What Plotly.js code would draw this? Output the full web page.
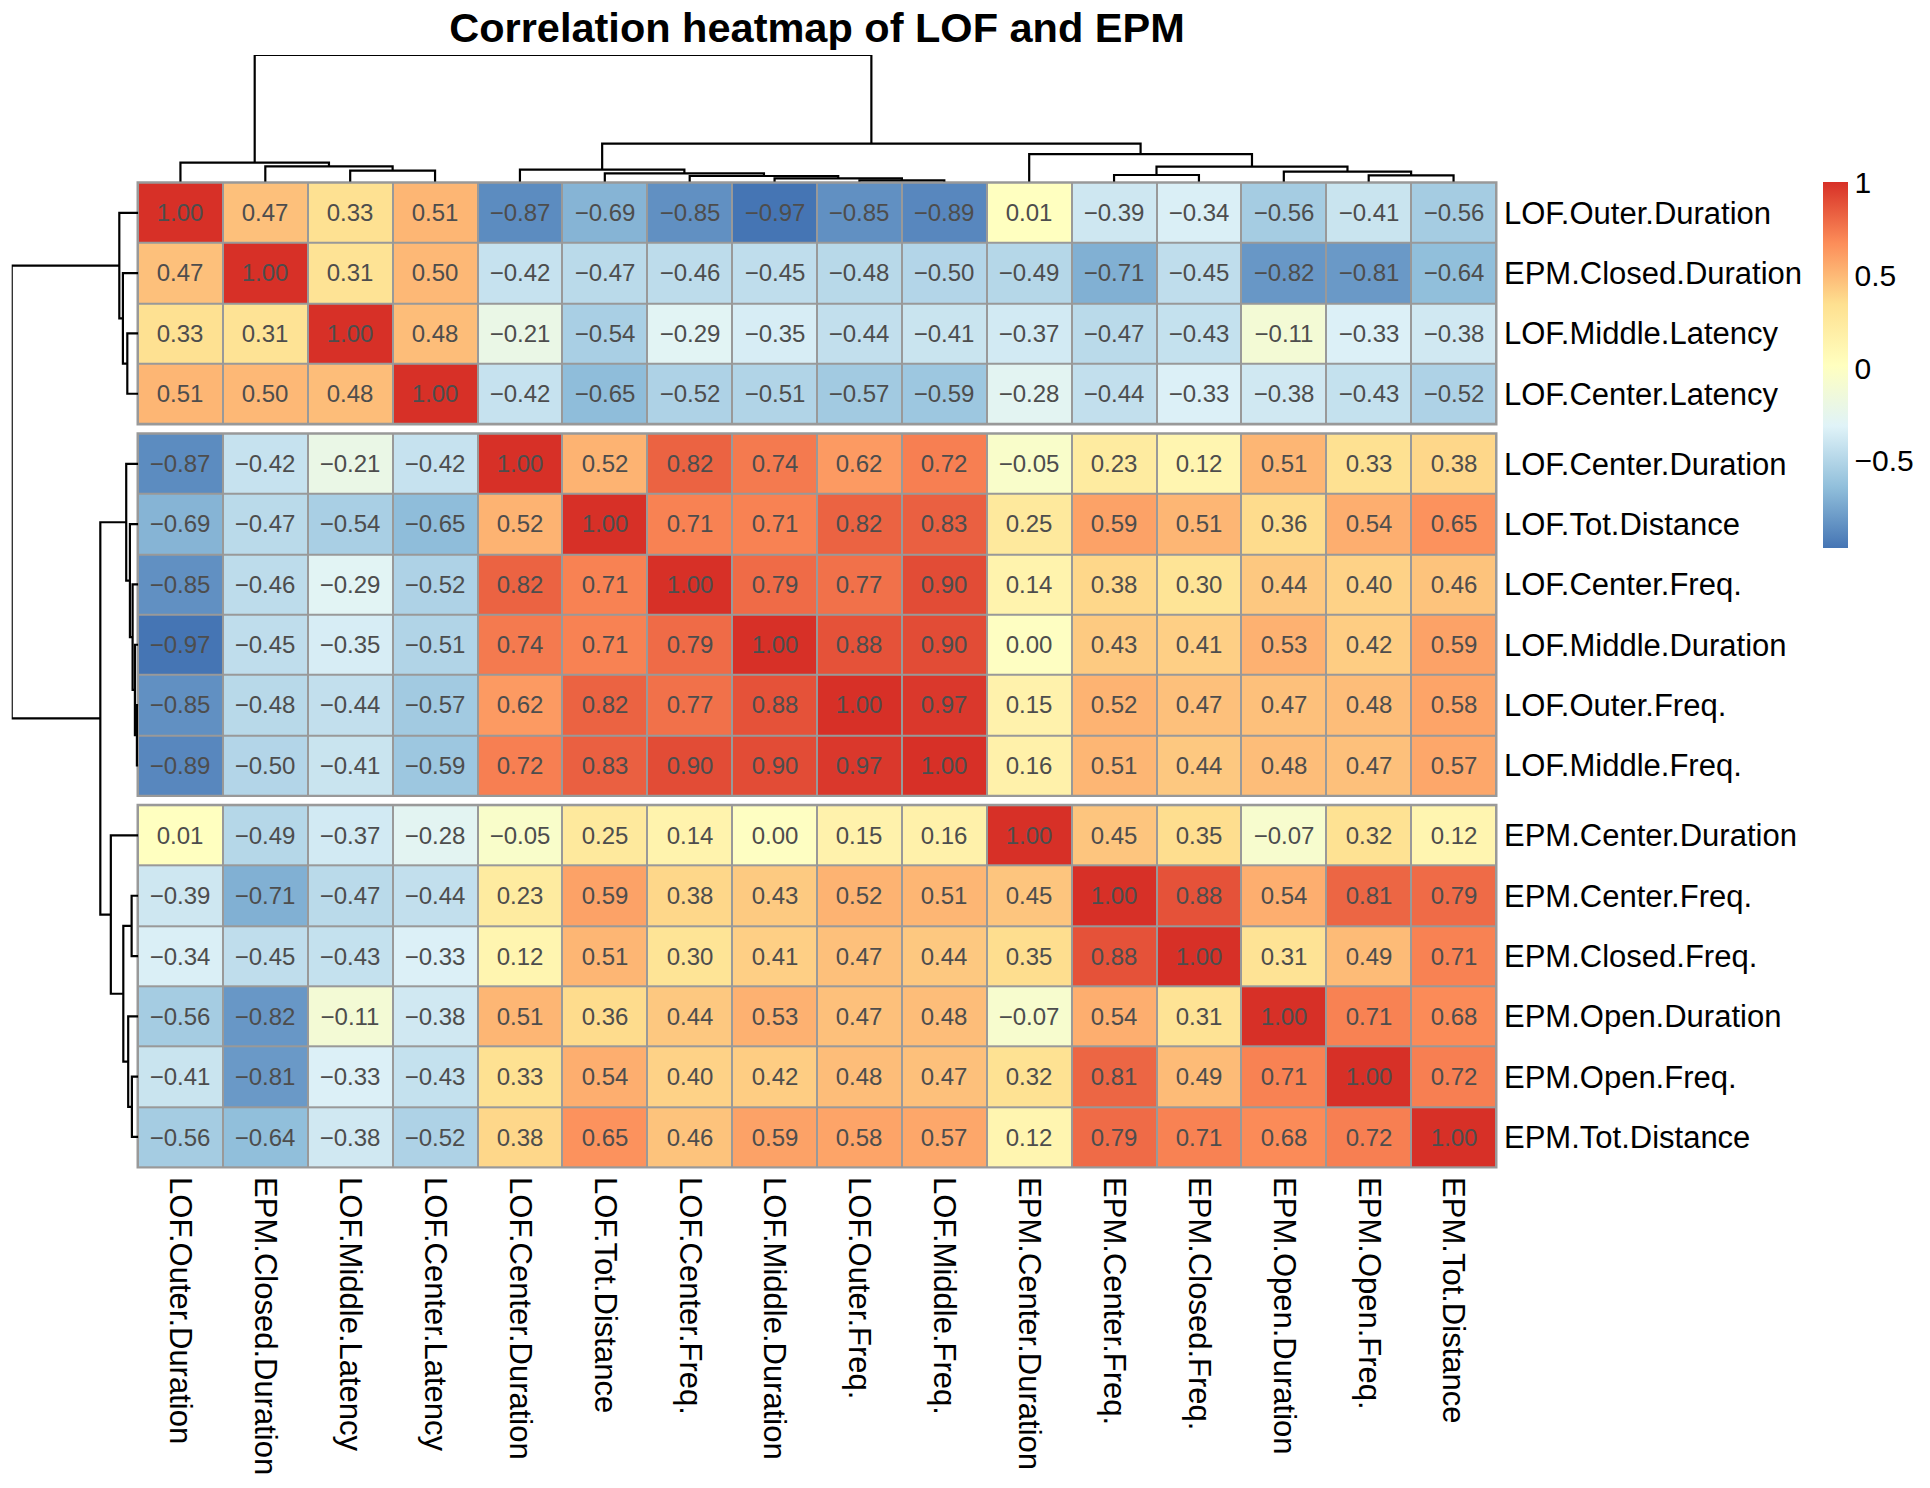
<!DOCTYPE html>
<html>
<head>
<meta charset="utf-8">
<script src="https://cdn.plot.ly/plotly-3.0.1.min.js"></script>
<style>html,body{margin:0;padding:0;background:#ffffff;}</style>
</head>
<body>
<div id="chart" style="width:1930px;height:1488px;"></div>
<script>
// ---------------- data ----------------
const chartTitle = 'Correlation heatmap of LOF and EPM';

const variableLabels = [
  'LOF.Outer.Duration', 'EPM.Closed.Duration', 'LOF.Middle.Latency', 'LOF.Center.Latency',
  'LOF.Center.Duration', 'LOF.Tot.Distance', 'LOF.Center.Freq.', 'LOF.Middle.Duration',
  'LOF.Outer.Freq.', 'LOF.Middle.Freq.', 'EPM.Center.Duration', 'EPM.Center.Freq.',
  'EPM.Closed.Freq.', 'EPM.Open.Duration', 'EPM.Open.Freq.', 'EPM.Tot.Distance'
];

// row cluster sizes (cutree, in display order)
const rowGroupSizes = [4, 6, 6];

const corrValues = [
  [ 1.00, 0.47, 0.33, 0.51,-0.87,-0.69,-0.85,-0.97,-0.85,-0.89, 0.01,-0.39,-0.34,-0.56,-0.41,-0.56],
  [ 0.47, 1.00, 0.31, 0.50,-0.42,-0.47,-0.46,-0.45,-0.48,-0.50,-0.49,-0.71,-0.45,-0.82,-0.81,-0.64],
  [ 0.33, 0.31, 1.00, 0.48,-0.21,-0.54,-0.29,-0.35,-0.44,-0.41,-0.37,-0.47,-0.43,-0.11,-0.33,-0.38],
  [ 0.51, 0.50, 0.48, 1.00,-0.42,-0.65,-0.52,-0.51,-0.57,-0.59,-0.28,-0.44,-0.33,-0.38,-0.43,-0.52],
  [-0.87,-0.42,-0.21,-0.42, 1.00, 0.52, 0.82, 0.74, 0.62, 0.72,-0.05, 0.23, 0.12, 0.51, 0.33, 0.38],
  [-0.69,-0.47,-0.54,-0.65, 0.52, 1.00, 0.71, 0.71, 0.82, 0.83, 0.25, 0.59, 0.51, 0.36, 0.54, 0.65],
  [-0.85,-0.46,-0.29,-0.52, 0.82, 0.71, 1.00, 0.79, 0.77, 0.90, 0.14, 0.38, 0.30, 0.44, 0.40, 0.46],
  [-0.97,-0.45,-0.35,-0.51, 0.74, 0.71, 0.79, 1.00, 0.88, 0.90, 0.00, 0.43, 0.41, 0.53, 0.42, 0.59],
  [-0.85,-0.48,-0.44,-0.57, 0.62, 0.82, 0.77, 0.88, 1.00, 0.97, 0.15, 0.52, 0.47, 0.47, 0.48, 0.58],
  [-0.89,-0.50,-0.41,-0.59, 0.72, 0.83, 0.90, 0.90, 0.97, 1.00, 0.16, 0.51, 0.44, 0.48, 0.47, 0.57],
  [ 0.01,-0.49,-0.37,-0.28,-0.05, 0.25, 0.14, 0.00, 0.15, 0.16, 1.00, 0.45, 0.35,-0.07, 0.32, 0.12],
  [-0.39,-0.71,-0.47,-0.44, 0.23, 0.59, 0.38, 0.43, 0.52, 0.51, 0.45, 1.00, 0.88, 0.54, 0.81, 0.79],
  [-0.34,-0.45,-0.43,-0.33, 0.12, 0.51, 0.30, 0.41, 0.47, 0.44, 0.35, 0.88, 1.00, 0.31, 0.49, 0.71],
  [-0.56,-0.82,-0.11,-0.38, 0.51, 0.36, 0.44, 0.53, 0.47, 0.48,-0.07, 0.54, 0.31, 1.00, 0.71, 0.68],
  [-0.41,-0.81,-0.33,-0.43, 0.33, 0.54, 0.40, 0.42, 0.48, 0.47, 0.32, 0.81, 0.49, 0.71, 1.00, 0.72],
  [-0.56,-0.64,-0.38,-0.52, 0.38, 0.65, 0.46, 0.59, 0.58, 0.57, 0.12, 0.79, 0.71, 0.68, 0.72, 1.00]
];

// hierarchical clustering (same tree for rows and columns), hclust-style:
// negative = leaf (1-based display position), positive = earlier merge step
const mergeLeft   = [-9, -8, -7, -12, -15, -6, -14, -3, -5, 4, -2, -1, -11, 9, 12];
const mergeRight  = [-10, 1, 2, -13, -16, 3, 5, -4, 6, 7, 8, 11, 10, 13, 14];
const mergeHeight = [0.055, 0.134, 0.225, 0.264, 0.253, 0.331, 0.399, 0.434, 0.477, 0.592, 0.608, 0.750, 1.085, 1.50, 5.00];

// rev(brewer.pal(7, "RdYlBu"))
const paletteColors = ['#4575B4', '#91BFDB', '#E0F3F8', '#FFFFBF', '#FEE090', '#FC8D59', '#D73027'];
const legendTickValues = [-0.5, 0, 0.5, 1];

// ---------------- layout geometry (pixels) ----------------
const W = 1930, H = 1488;
const FONT = 'Liberation Sans, Arial, Helvetica, sans-serif';
const gridL = 138, gridR = 1496;
const gridTop = 182.7, cellH = 60.3, gapH = 9.8;
const colDendroTop = 55, colDendroBottom = 181.7;
const rowDendroLeft = 11.7, rowDendroRight = 138.3;

const px = v => v / W;
const py = v => 1 - v / H;

// ---------------- helpers ----------------
const fmt = v => (v < 0 ? '\u2212' : '') + Math.abs(v).toFixed(2);
const allVals = corrValues.flat();
const zMin = Math.min(...allVals), zMax = Math.max(...allVals);
const colorscale = paletteColors.map((c, i) => [i / (paletteColors.length - 1), c]);

function dendroLines(leafPos) {
  const pos = [], hgt = [], p = [], h = [];
  for (let i = 0; i < mergeLeft.length; i++) {
    const a = mergeLeft[i], b = mergeRight[i];
    const pa = a < 0 ? leafPos[-a - 1] : pos[a - 1];
    const ha = a < 0 ? 0 : hgt[a - 1];
    const pb = b < 0 ? leafPos[-b - 1] : pos[b - 1];
    const hb = b < 0 ? 0 : hgt[b - 1];
    const hm = mergeHeight[i];
    p.push(pa, pa, pb, pb, null);
    h.push(ha, hm, hm, hb, null);
    pos.push((pa + pb) / 2);
    hgt.push(hm);
  }
  return { p, h };
}

// ---------------- traces ----------------
const traces = [];
const layout = {
  width: W, height: H,
  margin: { l: 0, r: 0, t: 0, b: 0, pad: 0 },
  paper_bgcolor: '#ffffff', plot_bgcolor: 'rgba(0,0,0,0)',
  showlegend: false,
  font: { family: FONT, color: '#000000' },
  title: {
    text: chartTitle,
    font: { family: FONT, size: 41.5, color: '#000000', weight: 700 },
    x: (gridL + gridR) / 2 / W, xanchor: 'center', xref: 'paper',
    y: 1 - 27 / H, yanchor: 'middle', yref: 'container'
  },
  coloraxis: {
    cmin: zMin, cmax: zMax, colorscale: colorscale,
    colorbar: {
      x: px(1823.3), xanchor: 'left', xref: 'paper',
      y: py(365.3), yanchor: 'middle', yref: 'paper',
      len: 366, lenmode: 'pixels', thickness: 25, thicknessmode: 'pixels',
      outlinewidth: 0, xpad: 0, ypad: 0,
      ticks: '', tickvals: legendTickValues,
      tickfont: { family: FONT, size: 30, color: '#000000' }
    }
  },
  xaxis: {
    domain: [px(gridL), px(gridR)], anchor: 'y3', side: 'bottom', type: 'category',
    tickangle: 90, ticks: '', showgrid: false, zeroline: false, showline: false,
    dtick: 1, ticklabelstandoff: 9,
    tickfont: { family: FONT, size: 31, color: '#000000' }
  },
  shapes: []
};

let start = 0;
rowGroupSizes.forEach((n, g) => {
  const top = gridTop + start * cellH + g * gapH;
  const bottom = top + n * cellH;
  const yName = g === 0 ? 'y' : 'y' + (g + 1);
  const axKey = g === 0 ? 'yaxis' : 'yaxis' + (g + 1);
  const zRows = corrValues.slice(start, start + n);
  traces.push({
    type: 'heatmap',
    x: variableLabels,
    y: variableLabels.slice(start, start + n),
    z: zRows,
    text: zRows.map(r => r.map(fmt)),
    texttemplate: '%{text}',
    textfont: { family: FONT, size: 24, color: '#4D4D4D' },
    coloraxis: 'coloraxis',
    xgap: 2, ygap: 2,
    xaxis: 'x', yaxis: yName,
    hoverinfo: 'x+y+z'
  });
  layout[axKey] = {
    domain: [py(bottom), py(top)], anchor: 'x', side: 'right', type: 'category',
    autorange: 'reversed', ticks: '', showgrid: false, zeroline: false, showline: false,
    ticklabelstandoff: 7,
    tickfont: { family: FONT, size: 31, color: '#000000' }
  };
  layout.shapes.push({
    type: 'rect', xref: 'x domain', yref: yName + ' domain',
    x0: 0, x1: 1, y0: 0, y1: 1, layer: 'below',
    fillcolor: '#999999', line: { color: '#999999', width: 3 }
  });
  start += n;
});

// column dendrogram
const colLeafPos = variableLabels.map((_, i) => i);
const colD = dendroLines(colLeafPos);
traces.push({
  type: 'scatter', mode: 'lines', x: colD.p, y: colD.h,
  xaxis: 'x2', yaxis: 'y4', cliponaxis: false, hoverinfo: 'skip',
  line: { color: '#000000', width: 2.2 }
});
layout.xaxis2 = { domain: [px(gridL), px(gridR)], anchor: 'y4', range: [-0.5, variableLabels.length - 0.5], visible: false };
layout.yaxis4 = { domain: [py(colDendroBottom), py(colDendroTop)], anchor: 'x2', range: [0, Math.max(...mergeHeight)], visible: false };

// row dendrogram (positions in row units incl. gaps)
const gapUnits = gapH / cellH;
const rowLeafPos = [];
let acc = 0;
rowGroupSizes.forEach((n, g) => {
  for (let k = 0; k < n; k++) { rowLeafPos.push(acc + k + 0.5 + g * gapUnits); }
  acc += n;
});
const totalRowUnits = variableLabels.length + (rowGroupSizes.length - 1) * gapUnits;
const rowD = dendroLines(rowLeafPos);
traces.push({
  type: 'scatter', mode: 'lines', x: rowD.h, y: rowD.p,
  xaxis: 'x3', yaxis: 'y5', cliponaxis: false, hoverinfo: 'skip',
  line: { color: '#000000', width: 2.2 }
});
const gridBottom = gridTop + variableLabels.length * cellH + (rowGroupSizes.length - 1) * gapH;
layout.xaxis3 = { domain: [px(rowDendroLeft), px(rowDendroRight)], anchor: 'y5', range: [Math.max(...mergeHeight), 0], visible: false };
layout.yaxis5 = { domain: [py(gridBottom), py(gridTop)], anchor: 'x3', range: [totalRowUnits, 0], visible: false };

Plotly.newPlot('chart', traces, layout, { displayModeBar: false, responsive: false });
</script>
</body>
</html>
